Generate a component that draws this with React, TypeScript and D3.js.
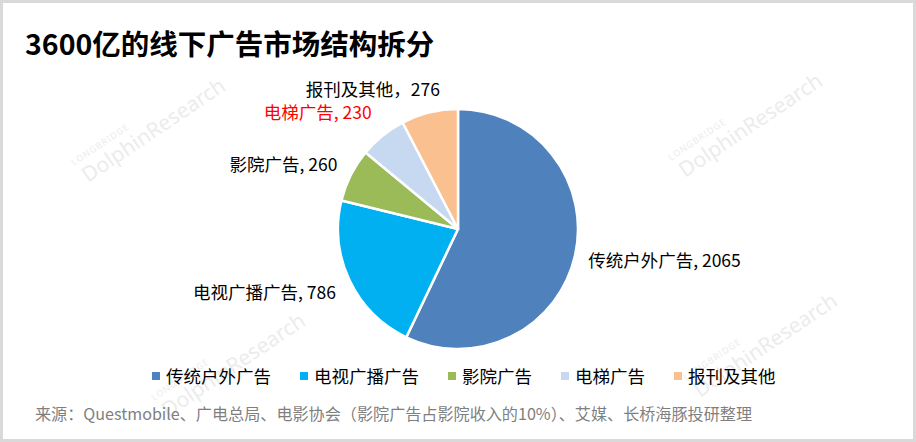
import React from 'react';
import * as d3 from 'd3';

const categories = ['传统户外广告', '电视广播广告', '影院广告', '电梯广告', '报刊及其他'];
const values = [2065, 786, 260, 230, 276];
const colors = ['#4F81BD', '#00B0F0', '#9BBB59', '#C6D9F1', '#FAC090'];
const labelSeparators = [', ', ', ', ', ', ', ', '，'];
const labelColors = ['#000000', '#000000', '#000000', '#FF0000', '#000000'];
const titleText = '3600亿的线下广告市场结构拆分';
const sourceText = '来源：Questmobile、广电总局、电影协会（影院广告占影院收入的10%）、艾媒、长桥海豚投研整理';

const W = 916;
const H = 442;
const CX = 458;
const CY = 229;
const R = 120;
const LABEL_R = 135;
const LABEL_NUDGE: [number, number][] = [[-1.5, 2], [0, 6], [0, -3.5], [-1.5, -11.5], [14, -8.5]];
const FONT = '"Noto Sans CJK SC", "Noto Sans", sans-serif';
const FS = 17.5;

const watermarkSpots: [number, number][] = [[88, 183], [685, 178], [168, 418], [700, 398]];

export default function App() {
  const pie = d3.pie<number>().sort(null).value((d) => d).startAngle(0).endAngle(2 * Math.PI);
  const arcs = pie(values);
  const arcGen = d3.arc<d3.PieArcDatum<number>>().innerRadius(0).outerRadius(R);
  const labelArc = d3.arc<d3.PieArcDatum<number>>().innerRadius(LABEL_R).outerRadius(LABEL_R);

  // legend layout
  const legendY = 376;
  let lx = 152;
  const legendItems = categories.map((c, i) => {
    const item = { x: lx, c, color: colors[i] };
    lx = lx + 14 + c.length * FS + 29;
    return item;
  });

  return (
    <svg width={W} height={H} style={{ position: 'absolute', left: 0, top: 0, display: 'block', background: '#fff' }}>
      <rect x={0} y={0} width={W} height={H} fill="#ffffff" />
      {/* watermarks */}
      {watermarkSpots.map(([x, y], i) => (
        <g key={i} transform={`translate(${x},${y}) rotate(-34)`} fill="#ececec" fontFamily='"Noto Sans", sans-serif'>
          <text x={0} y={0} fontSize={21}>DolphinResearch</text>
          <text x={-2} y={-22} fontSize={9} letterSpacing={1}>LONGBRIDGE</text>
        </g>
      ))}
      <rect x={1.5} y={1.5} width={W - 3} height={H - 3} fill="none" stroke="#d9d9d9" strokeWidth={3} />
      <text x={25} y={55} fontFamily={FONT} fontWeight={700} fontSize={28.5} fill="#000">{titleText}</text>
      <g transform={`translate(${CX},${CY})`}>
        {arcs.map((a, i) => (
          <path key={i} d={arcGen(a) || ''} fill={colors[i]} stroke="#ffffff" strokeWidth={2.5} strokeLinejoin="round" />
        ))}
      </g>
      {arcs.map((a, i) => {
        const [px, py] = labelArc.centroid(a);
        const x = CX + px + LABEL_NUDGE[i][0];
        const y = CY + py + LABEL_NUDGE[i][1];
        const anchor = px > 0 ? 'start' : 'end';
        return (
          <text key={i} x={x} y={y + 6.5} textAnchor={anchor} fontFamily={FONT} fontSize={FS} fill={labelColors[i]}>
            {categories[i] + labelSeparators[i] + values[i]}
          </text>
        );
      })}
      {legendItems.map((it, i) => (
        <g key={i}>
          <rect x={it.x} y={legendY - 4} width={8} height={8} fill={it.color} />
          <text x={it.x + 14} y={legendY + 6.5} fontFamily={FONT} fontSize={FS} fill="#000">{it.c}</text>
        </g>
      ))}
      <text x={35} y={420} fontFamily={FONT} fontSize={16} fill="#7f7f7f" textLength={717} lengthAdjust="spacingAndGlyphs">{sourceText}</text>
    </svg>
  );
}
